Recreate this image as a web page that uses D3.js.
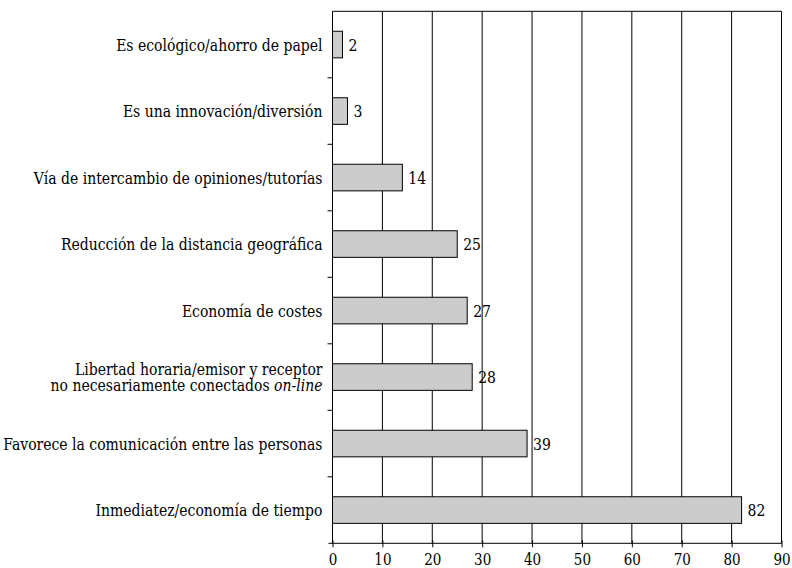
<!DOCTYPE html>
<html>
<head>
<meta charset="utf-8">
<script src="https://cdn.jsdelivr.net/npm/d3@7"></script>
<style>
  body { margin: 0; background: #fff; }
</style>
</head>
<body>
<script>
// categories top to bottom
const categories = [
    ["Es ecológico/ahorro de papel"],
    ["Es una innovación/diversión"],
    ["Vía de intercambio de opiniones/tutorías"],
    ["Reducción de la distancia geográfica"],
    ["Economía de costes"],
    ["Libertad horaria/emisor y receptor", "no necesariamente conectados |on-line"],
    ["Favorece la comunicación entre las personas"],
    ["Inmediatez/economía de tiempo"]
];
const values = [2, 3, 14, 25, 27, 28, 39, 82];
const xTicks = [0, 10, 20, 30, 40, 50, 60, 70, 80, 90];

const width = 792, height = 568;
const margin = {top: 11.3, right: 10.5, bottom: 24.7, left: 332.5};
const font = 'DejaVu Serif';
const stretch = 1.18;   // the original lettering is a bit taller than DejaVu

const svg = d3.select('body').append('svg')
    .attr('width', width)
    .attr('height', height);

const x = d3.scaleLinear().domain([0, 90]).range([margin.left, width - margin.right]);
const y = d3.scaleBand().domain(d3.range(values.length))
    .range([margin.top, height - margin.bottom]).paddingInner(0.6).paddingOuter(0.3);

const yTop = margin.top, yBot = height - margin.bottom;

// vertical grid
svg.selectAll('line.grid').data(xTicks.slice(1)).enter()
    .append('line').attr('class', 'grid')
    .attr('x1', d => x(d)).attr('x2', d => x(d))
    .attr('y1', yTop).attr('y2', yBot)
    .style('stroke', '#000').style('stroke-width', 1);

// top border
svg.append('line')
    .attr('x1', x(0)).attr('x2', x(90))
    .attr('y1', yTop).attr('y2', yTop)
    .style('stroke', '#000');

// bottom axis
const xAxis = d3.axisBottom(x).tickValues(xTicks).tickSize(4).tickSizeOuter(0).tickPadding(3);
const gx = svg.append('g').attr('transform', `translate(0,${yBot})`).call(xAxis);
gx.attr('font-family', font).attr('font-size', 13.5);
gx.select('.domain').attr('d', `M${x(0) - 4},0H${x(90)}`);
gx.selectAll('.tick line').attr('y1', -3);
gx.selectAll('.tick text').attr('transform', 'scale(1,1.3)');

// left axis line and ticks at band boundaries
svg.append('line')
    .attr('x1', x(0)).attr('x2', x(0))
    .attr('y1', yTop).attr('y2', yBot)
    .style('stroke', '#000');

const step = y.step();
const bounds = d3.range(1, values.length).map(i => y(i) - (step - y.bandwidth()) / 2);
svg.selectAll('line.ytick').data(bounds).enter()
    .append('line').attr('class', 'ytick')
    .attr('x1', x(0) - 5).attr('x2', x(0))
    .attr('y1', d => d).attr('y2', d => d)
    .style('stroke', '#000');

// bars
svg.selectAll('rect.bar').data(values).enter()
    .append('rect').attr('class', 'bar')
    .attr('x', x(0))
    .attr('y', (d, i) => y(i))
    .attr('width', d => x(d) - x(0))
    .attr('height', y.bandwidth())
    .style('fill', '#cccccc')
    .style('stroke', '#000')
    .style('stroke-width', 1);

// value labels
svg.selectAll('g.val').data(values).enter()
    .append('g').attr('class', 'val')
    .attr('transform', (d, i) => `translate(${x(d) + 6},${y(i) + y.bandwidth() / 2}) scale(1,${stretch})`)
    .append('text')
    .attr('dy', '0.36em')
    .attr('font-family', font)
    .attr('font-size', 14)
    .text(d => d);

// category labels
categories.forEach((lines, i) => {
    const cy = y(i) + y.bandwidth() / 2;
    lines.forEach((line, j) => {
        const yy = cy + (j - (lines.length - 1) / 2) * 16;
        const parts = line.split('|');
        const t = svg.append('g')
            .attr('transform', `translate(${x(0) - 10},${yy}) scale(1,${stretch})`)
            .append('text')
            .attr('text-anchor', 'end')
            .attr('dy', '0.36em')
            .attr('font-family', font)
            .attr('font-size', 14);
        t.append('tspan').text(parts[0]);
        if (parts[1]) {
            t.append('tspan').style('font-style', 'italic').text(parts[1]);
        }
    });
});
</script>
</body>
</html>
